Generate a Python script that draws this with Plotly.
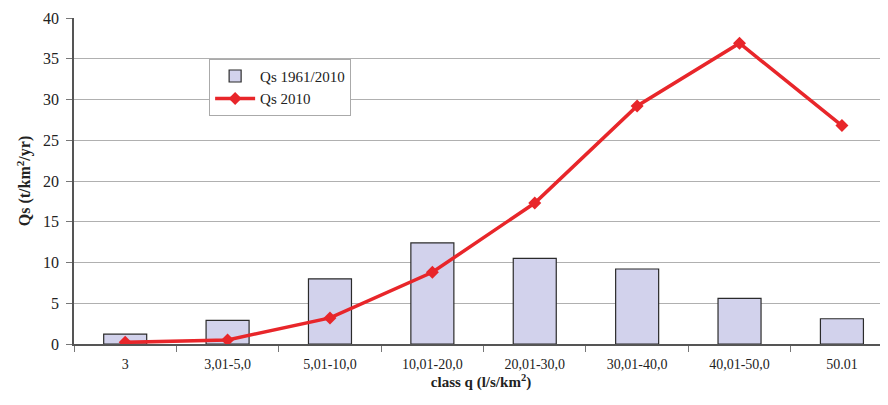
import plotly.graph_objects as go

categories = ["3", "3,01-5,0", "5,01-10,0", "10,01-20,0", "20,01-30,0",
              "30,01-40,0", "40,01-50,0", "50.01"]
qs_1961_2010 = [1.2, 2.9, 8.0, 12.4, 10.5, 9.2, 5.6, 3.1]
qs_2010 = [0.2, 0.5, 3.2, 8.8, 17.3, 29.2, 36.9, 26.8]

font_family = "Liberation Serif, Times New Roman, serif"

fig = go.Figure()

fig.add_trace(go.Bar(
    x=categories,
    y=qs_1961_2010,
    name="Qs 1961/2010",
    marker=dict(color="#d2d2ec", line=dict(color="#2b2b2b", width=1.2)),
    width=0.42,
))

fig.add_trace(go.Scatter(
    x=categories,
    y=qs_2010,
    name="Qs 2010",
    mode="lines+markers",
    line=dict(color="#e8262a", width=3.5),
    marker=dict(symbol="diamond", size=10, color="#e8262a"),
))

# page body has an 8px margin, so the figure is a bit smaller than the window
fig.update_layout(
    width=880,
    height=397,
    margin=dict(l=66, r=0, t=10, b=61),
    paper_bgcolor="white",
    plot_bgcolor="white",
    font=dict(family=font_family, size=14, color="#222222"),
    showlegend=True,
    legend=dict(
        x=0.166, y=0.875, xanchor="left", yanchor="top",
        bgcolor="white", bordercolor="#aaaaaa", borderwidth=1,
        font=dict(family=font_family, size=15, color="#222222"),
        itemwidth=40,
        tracegroupgap=2,
    ),
    bargap=0.58,
)

fig.update_xaxes(
    range=[-0.5, 7.45],
    automargin=False,
    showgrid=False,
    showline=True,
    linecolor="#555555",
    linewidth=1.5,
    ticks="outside",
    tickson="boundaries",
    ticklen=6,
    tickcolor="#777777",
    tickfont=dict(size=14),
    ticklabelstandoff=6,
    title=dict(text="<b>class q (l/s/km<sup>2</sup>)</b>", font=dict(size=15), standoff=6),
)
fig.update_yaxes(
    range=[0, 40],
    dtick=5,
    automargin=False,
    showgrid=True,
    gridcolor="#b0b0b0",
    gridwidth=1.2,
    showline=True,
    linecolor="#555555",
    linewidth=1.5,
    ticks="outside",
    ticklen=6,
    tickcolor="#777777",
    tickfont=dict(size=16),
    ticklabelstandoff=4,
    zeroline=False,
    title=dict(text="<b>Qs (t/km<sup>2</sup>/yr)</b>", font=dict(size=16), standoff=8),
)

fig.write_html("out.html")
